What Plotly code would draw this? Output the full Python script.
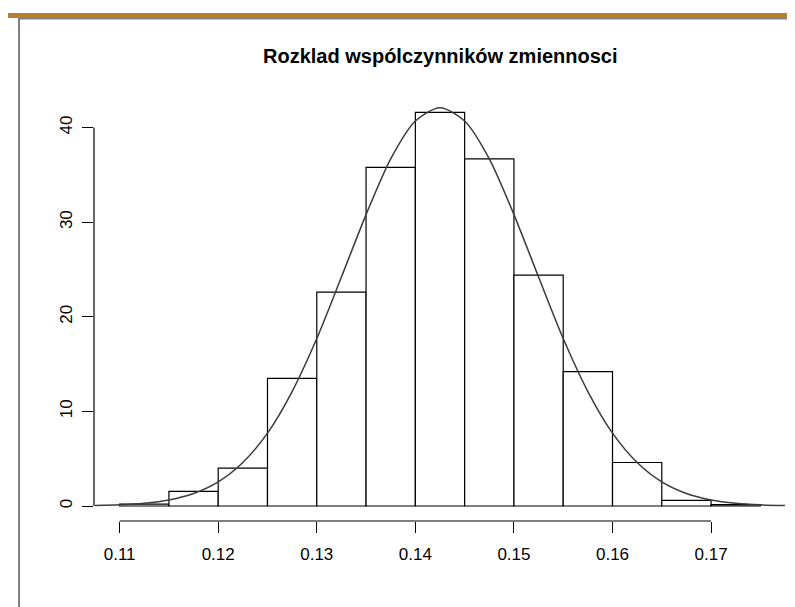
import plotly.graph_objects as go

# ---- data ----
bin_edges = [0.110, 0.115, 0.120, 0.125, 0.130, 0.135, 0.140, 0.145,
             0.150, 0.155, 0.160, 0.165, 0.170, 0.175]
density = [0.2, 1.55, 4.0, 13.5, 22.6, 35.8, 41.6, 36.7, 24.4, 14.2, 4.6, 0.6, 0.15]

curve_x = [0.1075, 0.110, 0.1125, 0.115, 0.1175, 0.120, 0.1225, 0.125, 0.1275,
           0.130, 0.1325, 0.135, 0.1375, 0.140, 0.1425, 0.145, 0.1475, 0.150,
           0.1525, 0.155, 0.1575, 0.160, 0.1625, 0.165, 0.1675, 0.170, 0.1725,
           0.175, 0.1775]
curve_y = [0.05, 0.12, 0.29, 0.64, 1.32, 2.55, 4.6, 7.7, 12.1,
           17.7, 24.2, 30.8, 36.7, 40.7, 42.1, 40.7, 36.7, 30.8,
           24.2, 17.7, 12.1, 7.7, 4.6, 2.55, 1.32, 0.64, 0.29,
           0.12, 0.05]

x_ticks = [0.11, 0.12, 0.13, 0.14, 0.15, 0.16, 0.17]
x_tick_labels = ["0.11", "0.12", "0.13", "0.14", "0.15", "0.16", "0.17"]
y_ticks = [0, 10, 20, 30, 40]
y_tick_labels = ["0", "10", "20", "30", "40"]
title_text = "Rozklad wspólczynników zmiennosci"

# ---- layout geometry (pixels) ----
W, H = 795, 607
L, R, T, B = 86, 17, 88, 94
PW, PH = W - L - R, H - T - B


def px(xp):
    return (xp - L) / PW


def py(yp):
    return (H - B - yp) / PH


FONT = "Liberation Sans, Arial, sans-serif"

centers = [(a + b) / 2 for a, b in zip(bin_edges[:-1], bin_edges[1:])]
widths = [b - a for a, b in zip(bin_edges[:-1], bin_edges[1:])]

fig = go.Figure()
fig.add_trace(go.Bar(
    x=centers, y=density, width=widths,
    marker=dict(color="white", line=dict(color="black", width=1.2)),
    hoverinfo="skip", showlegend=False,
))
fig.add_trace(go.Scatter(
    x=curve_x, y=curve_y, mode="lines",
    line=dict(color="#3c3c3c", width=1.5, shape="spline", smoothing=0.8),
    hoverinfo="skip", showlegend=False,
))

shapes = [
    # R-style axis lines spanning first to last tick
    dict(type="line", xref="x", yref="paper", x0=x_ticks[0], x1=x_ticks[-1],
         y0=0, y1=0, line=dict(color="black", width=1.2)),
    dict(type="line", xref="paper", yref="y", x0=0, x1=0,
         y0=y_ticks[0], y1=y_ticks[-1], line=dict(color="black", width=1.2)),
    # slide decoration: gold band, gray frame
    dict(type="rect", xref="paper", yref="paper", x0=px(0), x1=px(W),
         y0=py(10), y1=py(5), fillcolor="#B6802F", line=dict(width=0), layer="above"),
    dict(type="line", xref="paper", yref="paper", x0=px(10), x1=px(W),
         y0=py(10.8), y1=py(10.8), line=dict(color="#808080", width=1.6)),
    dict(type="line", xref="paper", yref="paper", x0=px(11), x1=px(11),
         y0=py(10), y1=py(H), line=dict(color="#808080", width=2)),
]

fig.update_layout(
    width=W, height=H,
    margin=dict(l=L, r=R, t=T, b=B, pad=0),
    paper_bgcolor="white", plot_bgcolor="white",
    font=dict(family=FONT, color="black", size=17),
    shapes=shapes,
    annotations=[dict(
        text="<b>" + title_text + "</b>", xref="paper", yref="paper",
        x=0.5, y=py(48), xanchor="center", yanchor="middle",
        showarrow=False, font=dict(family=FONT, size=20, color="black"),
    )],
    xaxis=dict(
        range=[0.1074, 0.1776], tickvals=x_ticks, ticktext=x_tick_labels,
        ticks="outside", ticklen=11, tickwidth=1.2, tickcolor="black",
        showgrid=False, zeroline=False, showline=False, ticklabelstandoff=7,
        tickfont=dict(family=FONT, size=17, color="black"),
    ),
    yaxis=dict(
        range=[-1.586, 43.34], tickvals=y_ticks, ticktext=y_tick_labels,
        ticks="outside", ticklen=11, tickwidth=1.2, tickcolor="black",
        showgrid=False, zeroline=False, showline=False, tickangle=-90,
        ticklabelstandoff=3,
        tickfont=dict(family=FONT, size=17, color="black"),
    ),
)

fig.write_html("out.html")
